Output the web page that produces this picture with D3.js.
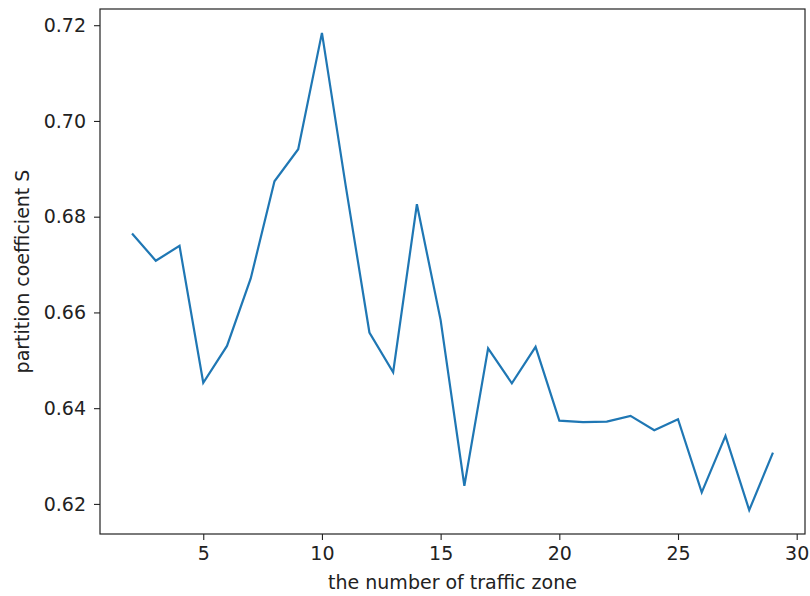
<!DOCTYPE html>
<html>
  <head>
    <script src="https://d3js.org/d3.v7.min.js"></script>
    <style>
body {
    margin: 0;
    background: white;
}
text {
    font-family: "DejaVu Sans", sans-serif;
    fill: #222;
}
    </style>
  </head>
  <body>
    <script>
// traffic zone count vs partition coefficient
var zones = [2, 3, 4, 5, 6, 7, 8, 9, 10, 11, 12, 13, 14, 15, 16, 17, 18, 19, 20, 21, 22, 23, 24, 25, 26, 27, 28, 29];
var coef = [0.6765, 0.6708, 0.6739, 0.6453, 0.6530, 0.6671, 0.6874, 0.6941, 0.7184, 0.6865,
            0.6558, 0.6475, 0.6826, 0.6584, 0.6238, 0.6525, 0.6452, 0.6528, 0.6374, 0.6371,
            0.6372, 0.6384, 0.6354, 0.6377, 0.6224, 0.6342, 0.6187, 0.6307];
var xTicks = [5, 10, 15, 20, 25, 30];
var yTicks = [0.62, 0.64, 0.66, 0.68, 0.70, 0.72];

var W = 810, H = 596;
var mLeft = 100, mRight = 805, mTop = 9, mBottom = 534;

var svg = d3.select("body").append("svg").attr("width", W).attr("height", H);

// matplotlib style 5% margins
var xr = d3.extent(zones), yr = d3.extent(coef);
var xm = (xr[1] - xr[0]) * 0.05, ym = (yr[1] - yr[0]) * 0.05;
var x = d3.scaleLinear().domain([xr[0] - xm, xr[1] + xm]).range([mLeft, mRight]);
var y = d3.scaleLinear().domain([yr[0] - ym, yr[1] + ym]).range([mBottom, mTop]);

var xAxis = svg.append("g").attr("transform", "translate(0," + mBottom + ")")
	.call(d3.axisBottom(x).tickValues(xTicks).tickSize(6).tickPadding(7).tickFormat(d3.format("d")));
var yAxis = svg.append("g").attr("transform", "translate(" + mLeft + ",0)")
	.call(d3.axisLeft(y).tickValues(yTicks).tickSize(6).tickPadding(8).tickFormat(d3.format(".2f")));

[xAxis, yAxis].forEach(function (g) {
	g.select(".domain").remove();
	g.selectAll(".tick line").attr("stroke", "#222").attr("stroke-width", 1.1);
	g.selectAll(".tick text").style("font-size", "19px").attr("fill", "#222");
});

var line = d3.line()
	.x(function (d, i) { return x(zones[i]); })
	.y(function (d) { return y(d); });

svg.append("path")
	.datum(coef)
	.attr("d", line)
	.attr("fill", "none")
	.attr("stroke", "#1f77b4")
	.attr("stroke-width", 2.2)
	.attr("stroke-linejoin", "miter");

svg.append("rect")
	.attr("x", mLeft).attr("y", mTop)
	.attr("width", mRight - mLeft).attr("height", mBottom - mTop)
	.attr("fill", "none").attr("stroke", "#222").attr("stroke-width", 1.2);

svg.append("text")
	.attr("x", (mLeft + mRight) / 2).attr("y", 589)
	.attr("text-anchor", "middle")
	.style("font-size", "19px")
	.text("the number of traffic zone");

svg.append("text")
	.attr("transform", "translate(29," + (mTop + mBottom) / 2 + ") rotate(-90)")
	.attr("text-anchor", "middle")
	.style("font-size", "19px")
	.text("partition coefficient S");
    </script>
  </body>
</html>
